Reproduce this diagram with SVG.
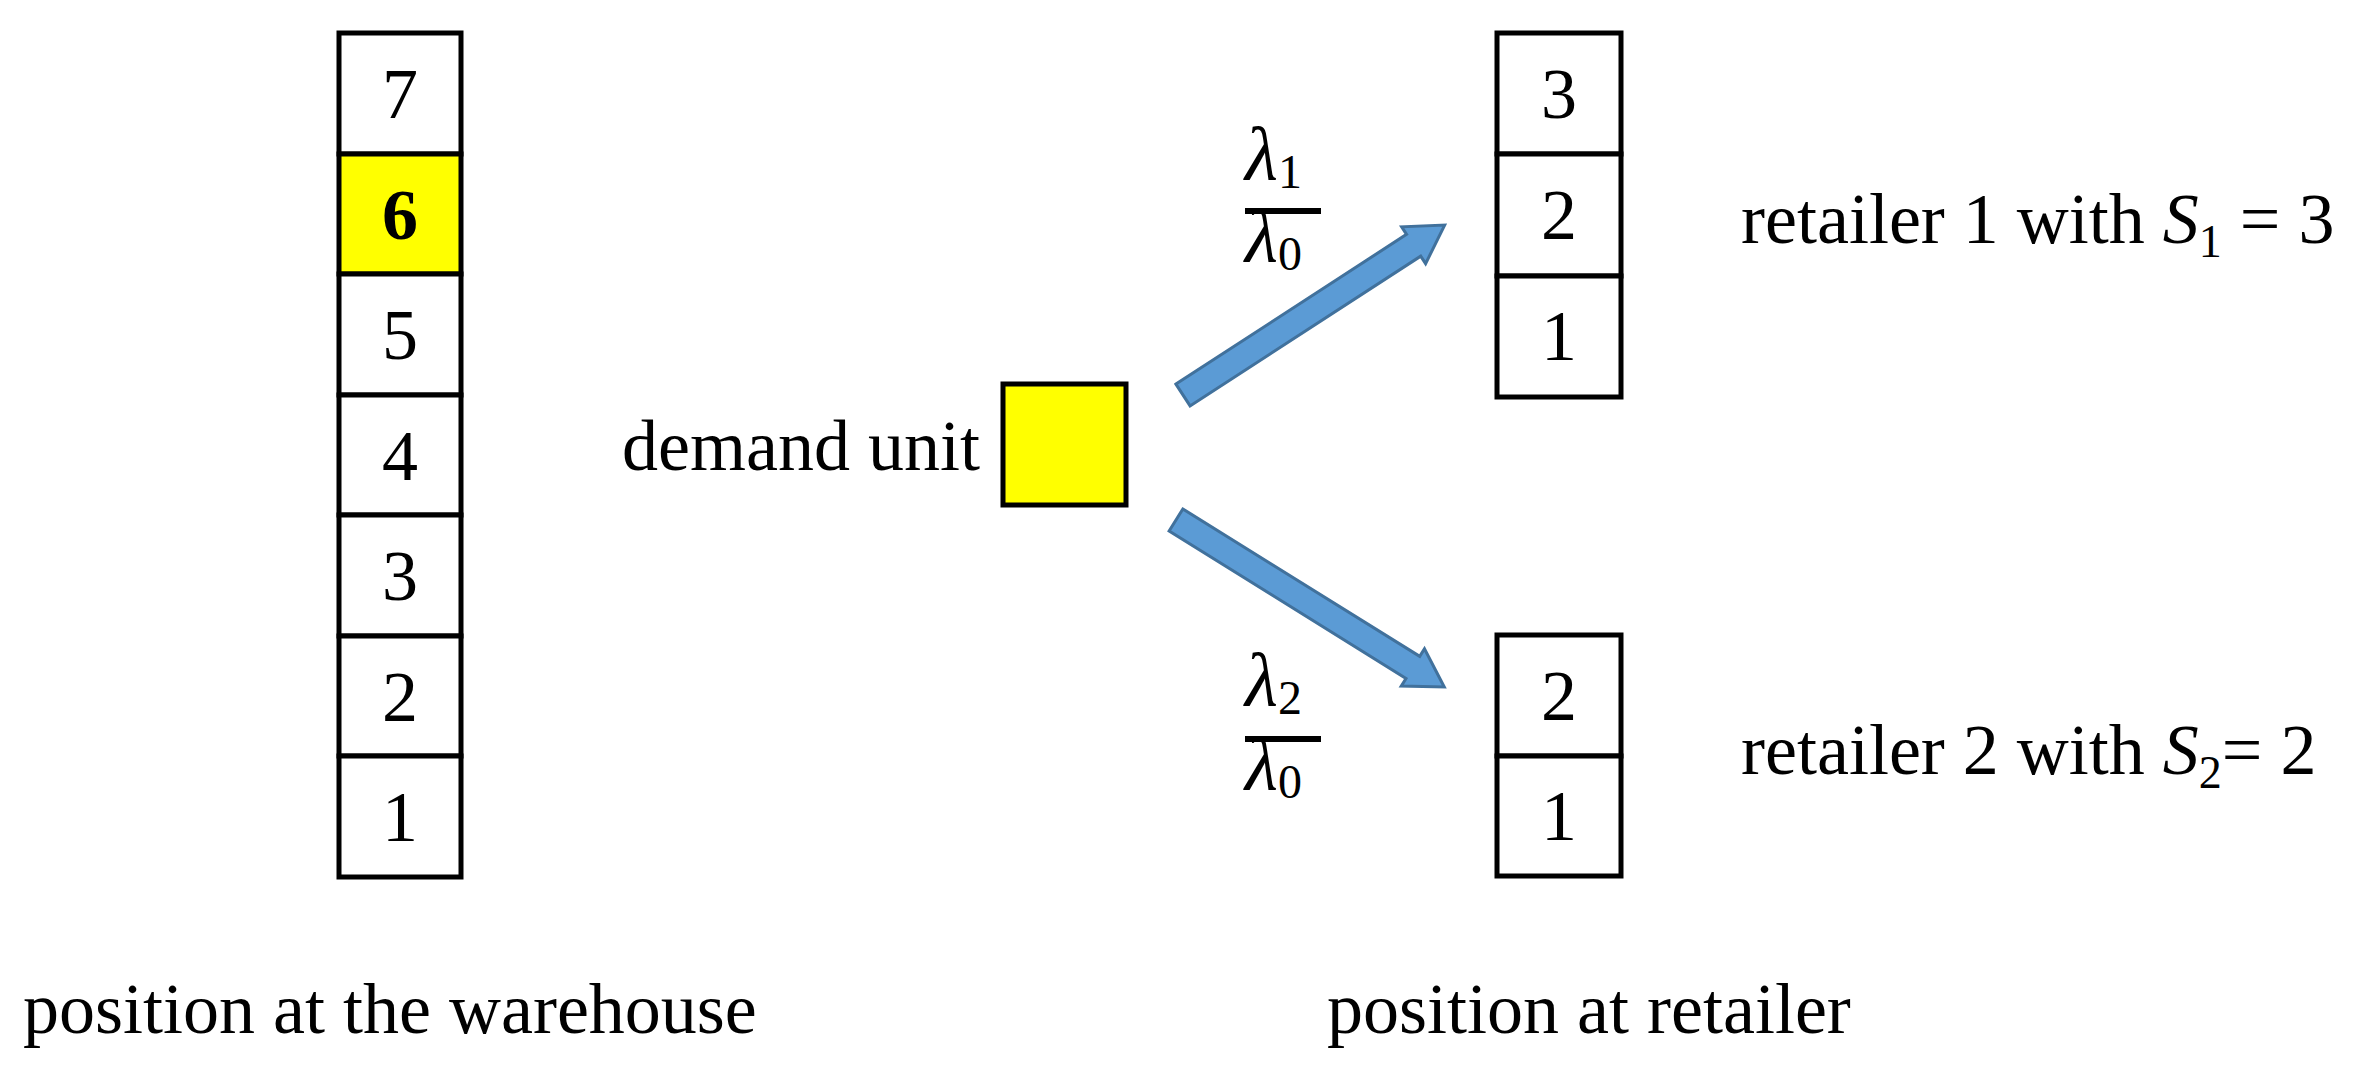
<svg xmlns="http://www.w3.org/2000/svg" width="2364" height="1069" viewBox="0 0 2364 1069">
<style>
.c{fill:#fff;stroke:#000;stroke-width:5}
.y{fill:#ffff00;stroke:#000;stroke-width:5}
text{font-family:"Liberation Serif","Times New Roman",serif;font-size:72px;fill:#000}
.n{text-anchor:middle}
.l{font-style:italic;font-size:76px}
.ar{fill:#5b9bd5;stroke:#41719c;stroke-width:3}
</style>
<rect width="2364" height="1069" fill="#fff"/>
<g id="warehouse">
<rect class="c" x="339" y="33" width="122" height="121"/>
<rect class="y" x="339" y="154" width="122" height="120"/>
<rect class="c" x="339" y="274" width="122" height="121"/>
<rect class="c" x="339" y="395" width="122" height="120"/>
<rect class="c" x="339" y="515" width="122" height="121"/>
<rect class="c" x="339" y="636" width="122" height="120"/>
<rect class="c" x="339" y="756" width="122" height="121"/>
<text class="n" x="400" y="118">7</text>
<text class="n" x="400" y="239" font-weight="bold">6</text>
<text class="n" x="400" y="359">5</text>
<text class="n" x="400" y="480">4</text>
<text class="n" x="400" y="600">3</text>
<text class="n" x="400" y="721">2</text>
<text class="n" x="400" y="841">1</text>
<text x="23" y="1033">position at the warehouse</text>
</g>
<g id="demand">
<rect class="y" x="1003" y="384" width="123" height="121"/>
<text x="980" y="470" text-anchor="end">demand unit</text>
</g>
<g id="retailer1">
<rect class="c" x="1497" y="33" width="124" height="121"/>
<rect class="c" x="1497" y="154" width="124" height="122"/>
<rect class="c" x="1497" y="276" width="124" height="121"/>
<text class="n" x="1559" y="118">3</text>
<text class="n" x="1559" y="239">2</text>
<text class="n" x="1559" y="360">1</text>
<text x="1741" y="243">retailer 1 with <tspan font-style="italic">S</tspan><tspan font-size="46" dy="14">1</tspan><tspan dy="-14"> = 3</tspan></text>
</g>
<g id="retailer2">
<rect class="c" x="1497" y="635" width="124" height="121"/>
<rect class="c" x="1497" y="756" width="124" height="120"/>
<text class="n" x="1559" y="720">2</text>
<text class="n" x="1559" y="840">1</text>
<text x="1741" y="774">retailer 2 with <tspan font-style="italic">S</tspan><tspan font-size="46" dy="14">2</tspan><tspan dy="-14">= 2</tspan></text>
<text x="1327" y="1033">position at retailer</text>
</g>
<g id="connectors">
<polygon class="ar" transform="translate(1183,395) rotate(-33)" points="0,-13 275,-13 275,-22 312,0 275,22 275,13 0,13"/>
<polygon class="ar" transform="translate(1176,520) rotate(31.9)" points="0,-13 279,-13 279,-22 316,0 279,22 279,13 0,13"/>
</g>
<g id="frac1">
<text class="l" x="1245" y="180">λ<tspan font-size="48" font-style="normal" dy="8">1</tspan></text>
<rect x="1245" y="208" width="76" height="6" fill="#000"/>
<text class="l" x="1245" y="262">λ<tspan font-size="48" font-style="normal" dy="8">0</tspan></text>
</g>
<g id="frac2">
<text class="l" x="1245" y="706">λ<tspan font-size="48" font-style="normal" dy="8">2</tspan></text>
<rect x="1245" y="736" width="76" height="6" fill="#000"/>
<text class="l" x="1245" y="790">λ<tspan font-size="48" font-style="normal" dy="8">0</tspan></text>
</g>
</svg>
